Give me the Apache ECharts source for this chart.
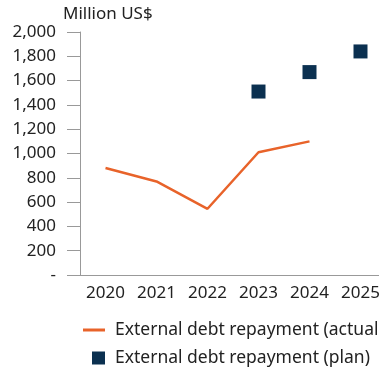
<!DOCTYPE html>
<html><head><meta charset="utf-8">
<script src="https://cdn.jsdelivr.net/npm/echarts@6/dist/echarts.min.js"></script>
<style>html,body{margin:0;padding:0;background:#fff;overflow:hidden;width:379px;height:368px}#c{width:386px;height:368px}</style>
</head><body><div id="c"></div>
<script>
var years = ['2020','2021','2022','2023','2024','2025'];
var actual = [880, 770, 545, 1010, 1100, null];
var plan = [null, null, null, 1510, 1670, 1840];
var yTicks = [0, 200, 400, 600, 800, 1000, 1200, 1400, 1600, 1800, 2000];
var unitLabel = 'Million US$';
var nameActual = 'External debt repayment (actual)';
var namePlan = 'External debt repayment (plan)';

var font = 'Noto Sans';
var chart = echarts.init(document.getElementById('c'));
chart.setOption({
  animation: false,
  grid: {left: 80, top: 32, height: 243, right: 0},
  title: {text: unitLabel, left: 58, top: 1, textStyle: {fontFamily: font, fontSize: 17, fontWeight: 'normal', color: '#222'}},
  legend: [
    {data: [nameActual], left: 78, top: 316, orient: 'vertical', icon: 'rect', itemWidth: 22, itemHeight: 3,
     textStyle: {fontFamily: font, fontSize: 17.5, color: '#222', padding: [0,0,0,5]}},
    {data: [namePlan], left: 87, top: 344, orient: 'vertical', icon: 'rect', itemWidth: 13, itemHeight: 13,
     textStyle: {fontFamily: font, fontSize: 17.5, color: '#222', padding: [0,0,0,5]}}
  ],
  xAxis: {
    type: 'category', data: years, boundaryGap: true,
    axisLine: {lineStyle: {color: '#999', width: 1}},
    axisTick: {show: false},
    axisLabel: {fontFamily: font, fontSize: 17, color: '#222', margin: 10, interval: 0}
  },
  yAxis: {
    type: 'value', min: yTicks[0], max: yTicks[yTicks.length-1], interval: 200,
    axisLine: {show: true, lineStyle: {color: '#999'}},
    axisTick: {show: true, length: 13, lineStyle: {color: '#999'}},
    splitLine: {show: false},
    axisLabel: {fontFamily: font, fontSize: 17, color: '#222', margin: 24,
      formatter: function(v){ return v === 0 ? '-' : v.toLocaleString('en-US'); }}
  },
  series: [
    {name: nameActual, type: 'line', data: actual, symbol: 'none', lineStyle: {color: '#E8632A', width: 2.5}, itemStyle: {color: '#E8632A'}},
    {name: namePlan, type: 'scatter', data: plan, symbol: 'rect', symbolSize: 14, itemStyle: {color: '#0B3050', opacity: 1}}
  ]
});
</script></body></html>
